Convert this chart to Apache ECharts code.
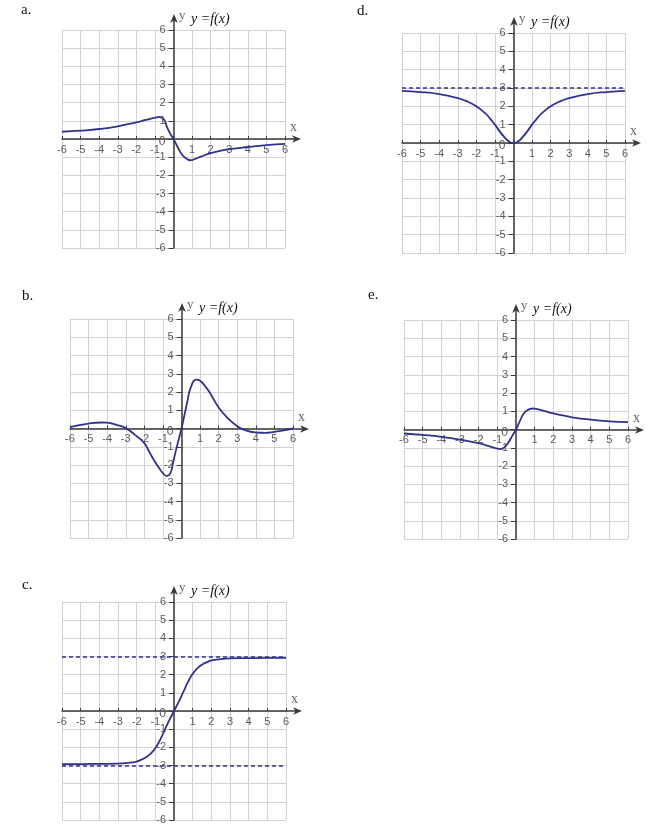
<!DOCTYPE html>
<html><head><meta charset="utf-8">
<script src="https://cdn.jsdelivr.net/npm/echarts@6/dist/echarts.min.js"></script>
<style>html,body{margin:0;padding:0;background:#fff}#c{width:653px;height:827px}</style>
</head><body><div id="c"></div>
<script>
// ---- data ----
const panelTags = ['a.', 'd.', 'b.', 'e.', 'c.'];
const tickValues = [-6, -5, -4, -3, -2, -1, 0, 1, 2, 3, 4, 5, 6];
const funcLabel = 'y =f(x)';

const aX = [-6, -5, -4, -3, -2, -1.5, -1, -0.75, -0.5, -0.35, -0.15, 0, 0.2, 0.45, 0.7, 0.9, 1.2, 1.5, 2, 2.5, 3, 4, 5, 6];
const aY = [0.40, 0.46, 0.55, 0.70, 0.92, 1.05, 1.17, 1.22, 1.06, 0.65, 0.25, 0, -0.4, -0.85, -1.08, -1.17, -1.08, -0.96, -0.78, -0.65, -0.56, -0.44, -0.34, -0.27];

const dX = [-6, -5, -4, -3, -2.5, -2, -1.5, -1.25, -1, -0.75, -0.5, -0.25, 0, 0.25, 0.5, 0.75, 1, 1.25, 1.5, 2, 2.5, 3, 4, 5, 6];
const dY = [2.84, 2.78, 2.67, 2.45, 2.27, 2.0, 1.6, 1.32, 1.0, 0.65, 0.33, 0.09, 0, 0.09, 0.33, 0.65, 1.0, 1.32, 1.6, 2.0, 2.27, 2.45, 2.67, 2.78, 2.84];
const dAsymptotes = [3];

const bX = [-6, -5, -4.3, -4, -3.5, -3, -2.5, -2, -1.75, -1.5, -1.25, -1, -0.8, -0.6, -0.45, -0.3, -0.15, 0, 0.15, 0.3, 0.5, 0.8, 1, 1.25, 1.5, 2, 2.5, 3, 3.5, 4, 4.5, 5, 5.5, 6];
const bY = [0.08, 0.27, 0.33, 0.32, 0.2, 0.02, -0.35, -0.8, -1.25, -1.7, -2.1, -2.45, -2.6, -2.45, -1.85, -1.2, -0.6, 0, 0.7, 1.4, 2.25, 2.68, 2.62, 2.35, 2.0, 1.15, 0.55, 0.13, -0.12, -0.22, -0.24, -0.18, -0.1, 0];

const eX = [-6, -5, -4, -3, -2, -1.5, -1, -0.8, -0.6, -0.4, -0.2, 0, 0.2, 0.4, 0.6, 0.9, 1.2, 1.5, 2, 2.5, 3, 4, 5, 6];
const eY = [-0.22, -0.3, -0.4, -0.55, -0.75, -0.9, -1.05, -1.07, -0.95, -0.7, -0.35, 0, 0.45, 0.85, 1.05, 1.15, 1.1, 1.02, 0.88, 0.77, 0.67, 0.54, 0.45, 0.4];

const cX = [-6, -5, -4, -3, -2.5, -2, -1.75, -1.5, -1.25, -1, -0.75, -0.5, -0.25, 0, 0.25, 0.5, 0.75, 1, 1.25, 1.5, 1.75, 2, 2.5, 3, 4, 5, 6];
const cY = [-2.92, -2.92, -2.91, -2.9, -2.86, -2.78, -2.68, -2.55, -2.35, -2.05, -1.6, -1.05, -0.5, 0, 0.5, 1.05, 1.6, 2.05, 2.35, 2.55, 2.68, 2.78, 2.86, 2.9, 2.91, 2.92, 2.92];
const cAsymptotes = [3, -3];

// ---- layout / style ----
const panels = [
  { xs: aX, ys: aY, asym: [], grid: { left: 62, top: 30, width: 223, height: 218 }, tag: [21, 10] },
  { xs: dX, ys: dY, asym: dAsymptotes, grid: { left: 402, top: 33, width: 223, height: 220 }, tag: [357, 11] },
  { xs: bX, ys: bY, asym: [], grid: { left: 70, top: 319, width: 223, height: 219 }, tag: [22, 296] },
  { xs: eX, ys: eY, asym: [], grid: { left: 404, top: 320, width: 224, height: 219 }, tag: [368, 295] },
  { xs: cX, ys: cY, asym: cAsymptotes, grid: { left: 62, top: 602, width: 224, height: 218 }, tag: [22, 585] }
];
const CURVE = '#30338c';
const AXIS = '#3a3a3a';
const GRIDC = '#d2d2d2';
const LBL = '#5a5a5a';
const SANS = 'Liberation Sans';
const SERIF = 'Liberation Serif';
const AMIN = tickValues[0], AMAX = tickValues[tickValues.length - 1];
const EXTPX = 16;

const grids = [], xAxes = [], yAxes = [], series = [];
panels.forEach((p, i) => {
  grids.push(Object.assign({ show: false, containLabel: false }, p.grid));
  const zeroFrac = (0 - AMIN) / (AMAX - AMIN);
  xAxes.push({
    gridIndex: i, type: 'value', min: AMIN, max: AMAX, interval: 1,
    position: 'bottom', offset: -p.grid.height * zeroFrac,
    axisLine: { onZero: false, lineStyle: { color: AXIS, width: 1.5 } },
    axisTick: { inside: true, length: 3, lineStyle: { color: AXIS } },
    axisLabel: {
      margin: 5, color: LBL, fontSize: 11, fontFamily: SANS,
      showMinLabel: true, showMaxLabel: true,
      formatter: v => (v === 0 ? '' : String(v))
    },
    splitLine: { show: true, lineStyle: { color: GRIDC, width: 1 } }
  });
  yAxes.push({
    gridIndex: i, type: 'value', min: AMIN, max: AMAX, interval: 1,
    position: 'left', offset: -p.grid.width * zeroFrac,
    axisLine: { onZero: false, lineStyle: { color: AXIS, width: 1.5 } },
    axisTick: { inside: false, length: 5, lineStyle: { color: AXIS } },
    axisLabel: {
      margin: 8, color: LBL, fontSize: 11, fontFamily: SANS,
      showMinLabel: true, showMaxLabel: true,
      formatter: v => (v === 0 ? '{z|0}' : String(v)),
      rich: { z: { padding: [6, 0, 0, 0], color: LBL, fontSize: 12, fontFamily: SANS } }
    },
    splitLine: { show: true, lineStyle: { color: GRIDC, width: 1 } }
  });
  const ml = p.asym.map(v => ({ yAxis: v }));
  series.push({
    type: 'line', xAxisIndex: i, yAxisIndex: i,
    data: p.xs.map((x, k) => [x, p.ys[k]]),
    smooth: 0.5, showSymbol: false,
    lineStyle: { color: CURVE, width: 1.8 },
    silent: true,
    markLine: {
      silent: true, animation: false,
      symbol: ['none', 'none'],
      label: { show: false },
      lineStyle: { color: CURVE, width: 1.6, type: [4, 3] },
      emphasis: { disabled: true },
      data: ml
    }
  });
});

const chart = echarts.init(document.getElementById('c'), null, { renderer: 'canvas' });
chart.setOption({
  animation: false,
  backgroundColor: '#fff',
  grid: grids, xAxis: xAxes, yAxis: yAxes, series: series
});

function arrowHead(tx, ty, dir) {
  const L = 9, W = 3.8, N = 6.5;
  if (dir === 'right') return [[tx, ty], [tx - L, ty - W], [tx - N, ty], [tx - L, ty + W]];
  return [[tx, ty], [tx - W, ty + L], [tx, ty + N], [tx + W, ty + L]];
}

const gfx = [];
panels.forEach((p, i) => {
  gfx.push({ type: 'text', x: p.tag[0], y: p.tag[1],
    style: { text: panelTags[i], fill: '#111', font: '15px "' + SERIF + '"', verticalAlign: 'middle', align: 'left' } });
  const o = chart.convertToPixel({ gridIndex: i }, [0, AMAX]);
  const r = chart.convertToPixel({ gridIndex: i }, [AMAX, 0]);
  const ox = Math.round(o[0]), oy = Math.round(o[1]);
  const rx = Math.round(r[0]), ry = Math.round(r[1]);
  gfx.push({ type: 'line', shape: { x1: rx, y1: ry, x2: rx + EXTPX - 3, y2: ry }, style: { stroke: AXIS, lineWidth: 1.5 } });
  gfx.push({ type: 'polygon', shape: { points: arrowHead(rx + EXTPX, ry, 'right') }, style: { fill: AXIS } });
  gfx.push({ type: 'line', shape: { x1: ox, y1: oy, x2: ox, y2: oy - EXTPX + 3 }, style: { stroke: AXIS, lineWidth: 1.5 } });
  gfx.push({ type: 'polygon', shape: { points: arrowHead(ox, oy - EXTPX, 'up') }, style: { fill: AXIS } });
  gfx.push({ type: 'text', x: ox + 5, y: oy - 14.5,
    style: { text: 'y', fill: '#666', font: '13px "' + SERIF + '"', verticalAlign: 'middle', align: 'left' } });
  gfx.push({ type: 'text', x: ox + 17, y: oy - 11,
    style: { text: funcLabel, fill: '#111', font: 'italic 14px "' + SERIF + '"', verticalAlign: 'middle', align: 'left' } });
  gfx.push({ type: 'text', x: rx + 8.5, y: ry - 12,
    style: { text: 'x', fill: '#666', font: '14px "' + SERIF + '"', verticalAlign: 'middle', align: 'center' } });
});
chart.setOption({ graphic: gfx });
</script>
</body></html>
